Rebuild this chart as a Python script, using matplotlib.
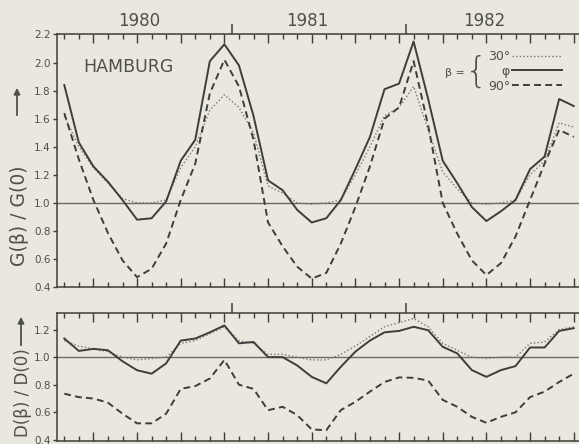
import numpy as np
import matplotlib
matplotlib.use("Agg")
import matplotlib.pyplot as plt
from matplotlib.patches import FancyArrowPatch
from matplotlib.ticker import NullFormatter

# monthly ratios, Jan 1980 .. Dec 1982
years = ["1980", "1981", "1982"]
year_label_pos = [5.63, 17.17, 29.36]

g_30 = [1.62, 1.40, 1.25, 1.14, 1.03, 1.00, 1.00, 1.02, 1.25, 1.40, 1.66, 1.77,
        1.68, 1.50, 1.12, 1.07, 1.00, 0.99, 1.00, 1.02, 1.20, 1.40, 1.62, 1.68,
        1.83, 1.52, 1.22, 1.10, 1.00, 0.99, 1.00, 1.02, 1.20, 1.30, 1.57, 1.54]
g_phi = [1.84, 1.43, 1.26, 1.15, 1.02, 0.88, 0.89, 1.01, 1.30, 1.45, 2.01, 2.13,
         1.98, 1.62, 1.16, 1.09, 0.95, 0.86, 0.89, 1.02, 1.24, 1.47, 1.81, 1.85,
         2.15, 1.74, 1.30, 1.14, 0.97, 0.87, 0.94, 1.02, 1.24, 1.33, 1.74, 1.69]
g_90 = [1.64, 1.31, 1.02, 0.785, 0.59, 0.47, 0.53, 0.71, 1.02, 1.28, 1.78, 2.02,
        1.83, 1.45, 0.86, 0.69, 0.545, 0.46, 0.50, 0.71, 0.97, 1.26, 1.60, 1.68,
        2.01, 1.55, 1.00, 0.78, 0.59, 0.485, 0.57, 0.76, 1.02, 1.28, 1.52, 1.47]

d_30 = [1.12, 1.08, 1.06, 1.04, 1.00, 0.98, 0.99, 1.00, 1.10, 1.12, 1.17, 1.22,
        1.12, 1.10, 1.02, 1.02, 1.00, 0.98, 0.98, 1.02, 1.08, 1.15, 1.22, 1.25,
        1.28, 1.22, 1.10, 1.05, 1.00, 0.99, 1.00, 1.00, 1.10, 1.11, 1.20, 1.22]
d_phi = [1.135, 1.045, 1.06, 1.05, 0.97, 0.905, 0.88, 0.955, 1.12, 1.135, 1.18, 1.23,
         1.10, 1.11, 1.00, 1.00, 0.94, 0.857, 0.81, 0.93, 1.04, 1.12, 1.18, 1.19,
         1.22, 1.195, 1.075, 1.027, 0.906, 0.857, 0.906, 0.935, 1.07, 1.07, 1.19, 1.21]
d_90 = [0.735, 0.71, 0.70, 0.67, 0.59, 0.52, 0.52, 0.59, 0.77, 0.79, 0.845, 0.98,
        0.80, 0.77, 0.615, 0.64, 0.58, 0.476, 0.47, 0.616, 0.676, 0.75, 0.82, 0.853,
        0.85, 0.83, 0.69, 0.64, 0.567, 0.524, 0.567, 0.60, 0.71, 0.75, 0.82, 0.88]

months = np.arange(36) + 0.5

BG = "#e9e7de"
INK = "#3d3d3b"
TXT = "#4f4f4c"
W, H = 579, 444

plt.rcParams["font.family"] = ["DejaVu Sans"]
fig = plt.figure(figsize=(W / 100, H / 100), dpi=100, facecolor=BG)


def px_axes(left, top, right, bottom):
    return fig.add_axes([left / W, 1 - bottom / H, (right - left) / W, (bottom - top) / H])


def style_axes(ax, ylim, yticks):
    ax.set_facecolor(BG)
    ax.set_xlim(0, 36)
    ax.set_ylim(*ylim)
    for side in ("left", "top", "bottom"):
        ax.spines[side].set_color(INK)
        ax.spines[side].set_linewidth(1.1)
    ax.spines["right"].set_visible(False)
    # tall ticks at Mar/Jun/Sep/Dec, short ticks at the other months
    ax.set_xticks(months[2::3])
    ax.set_xticks(months, minor=True)
    ax.xaxis.set_major_formatter(NullFormatter())
    ax.tick_params(axis="x", which="major", direction="in", top=True, bottom=True,
                   length=6.5, width=1.0, color=INK)
    ax.tick_params(axis="x", which="minor", direction="in", top=True, bottom=True,
                   length=3.5, width=1.0, color=INK)
    ax.set_yticks(yticks)
    ax.set_yticklabels([f"{v:.1f}" for v in yticks])
    ax.tick_params(axis="y", direction="out", length=3, width=1.0, color=INK,
                   labelsize=7.5, labelcolor=TXT, pad=1.5)
    ax.axhline(1.0, color="#6a6a66", lw=1.0, zorder=1)


def year_ticks(ax, labels):
    sec = ax.secondary_xaxis("top")
    sec.set_xticks([12, 24])
    sec.set_xticklabels(["", ""])
    sec.tick_params(which="major", direction="out", length=7, width=1.1, color=INK)
    if labels:
        sec.set_xticks(year_label_pos, minor=True)
        sec.set_xticklabels(years, minor=True)
        sec.tick_params(which="minor", length=0, labelsize=12, labelcolor=TXT, pad=3)
    sec.spines["top"].set_visible(False)


ax1 = px_axes(57, 34.5, 581, 287)
style_axes(ax1, (0.4, 2.2), np.arange(0.4, 2.21, 0.2))
# right-side y ticks point inward on the top panel
ax1.tick_params(axis="y", which="both", right=True)
year_ticks(ax1, True)

l30, = ax1.plot(months, g_30, color="#77776f", lw=1.0, ls=(0, (1, 1.6)), label="30°", zorder=3)
lphi, = ax1.plot(months, g_phi, color=INK, lw=1.4, ls="-", label="  φ", zorder=4)
l90, = ax1.plot(months, g_90, color=INK, lw=1.4, ls=(0, (3.5, 2.2)), label="90°", zorder=3)

ax1.text(0.05, 0.87, "HAMBURG", transform=ax1.transAxes, fontsize=12.5, color=TXT,
         ha="left", va="center")

leg = ax1.legend(handles=[l30, lphi, l90], loc="upper left",
                 bbox_to_anchor=((488 - 57) / 524, 1 - (50 - 34.5) / 252.5),
                 frameon=False, markerfirst=False, fontsize=9, handlelength=4.0,
                 handletextpad=0.1, labelspacing=0.15, borderpad=0, borderaxespad=0)
for t in leg.get_texts():
    t.set_color(TXT)
fig.text(455 / W, 1 - 73 / H, "β =", fontsize=8, color=TXT, ha="center", va="center")
fig.text(476 / W, 1 - 72 / H, "{", fontsize=26, color=TXT, ha="center", va="center",
         fontweight="light")

ax2 = px_axes(57, 313, 581, 441)
style_axes(ax2, (0.392, 1.32), np.arange(0.4, 1.21, 0.2))
year_ticks(ax2, False)

ax2.plot(months, d_30, color="#77776f", lw=1.0, ls=(0, (1, 1.6)), zorder=3)
ax2.plot(months, d_phi, color=INK, lw=1.4, ls="-", zorder=4)
ax2.plot(months, d_90, color=INK, lw=1.4, ls=(0, (3.5, 2.2)), zorder=3)

# rotated axis titles with their arrows
fig.text(20 / W, 1 - 216 / H, "G(β) / G(0)", rotation=90, fontsize=13.5, color=TXT,
         ha="center", va="center")
fig.text(23 / W, 1 - 393 / H, "D(β) / D(0)", rotation=90, fontsize=12, color=TXT,
         ha="center", va="center")
arrow = dict(arrowstyle="-|>", color=TXT, lw=1.3, mutation_scale=9)
fig.add_artist(FancyArrowPatch((17 / W, 1 - 118 / H), (17 / W, 1 - 85 / H),
                               transform=fig.transFigure, **arrow))
fig.add_artist(FancyArrowPatch((21 / W, 1 - 348 / H), (21 / W, 1 - 314 / H),
                               transform=fig.transFigure, **arrow))

fig.savefig("out.png", dpi=100, facecolor=BG)
